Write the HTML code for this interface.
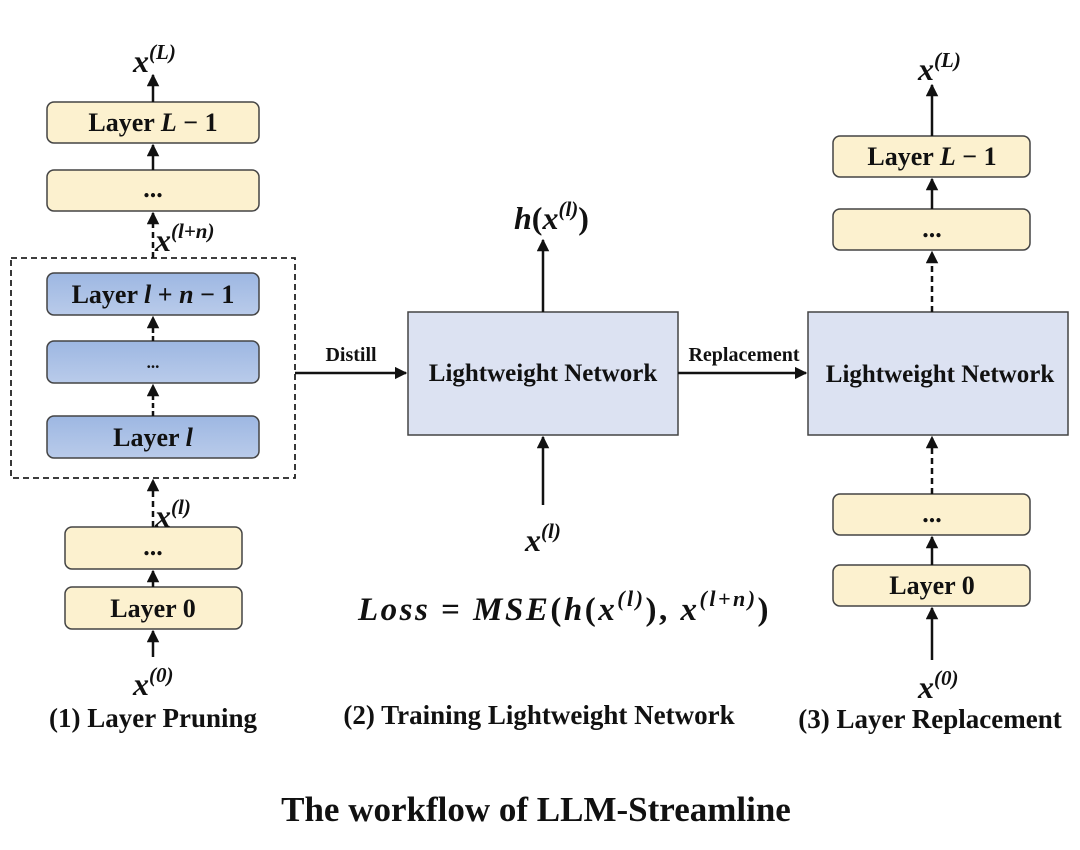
<!DOCTYPE html>
<html><head><meta charset="utf-8"><style>
body{margin:0;background:#fff}
text{font-family:"Liberation Serif",serif;font-weight:bold;fill:#111}
.m{font-style:italic}
</style></head><body>
<svg width="1080" height="845" viewBox="0 0 1080 845" xmlns="http://www.w3.org/2000/svg">
<defs>
<marker id="a" viewBox="0 0 10 10" refX="9" refY="5" markerWidth="5" markerHeight="5" orient="auto"><path d="M0,0L10,5L0,10z" fill="#111"/></marker>
<linearGradient id="bl" x1="0" y1="0" x2="0" y2="1"><stop offset="0" stop-color="#9db7e2"/><stop offset="1" stop-color="#b9cbea"/></linearGradient>
</defs>
<g stroke="#444" stroke-width="1.5">
<rect x="47" y="102" width="212" height="41" rx="7" fill="#fcf1cf"/>
<rect x="47" y="170" width="212" height="41" rx="7" fill="#fcf1cf"/>
<rect x="47" y="273" width="212" height="42" rx="7" fill="url(#bl)"/>
<rect x="47" y="341" width="212" height="42" rx="7" fill="url(#bl)"/>
<rect x="47" y="416" width="212" height="42" rx="7" fill="url(#bl)"/>
<rect x="65" y="527" width="177" height="42" rx="7" fill="#fcf1cf"/>
<rect x="65" y="587" width="177" height="42" rx="7" fill="#fcf1cf"/>
<rect x="408" y="312" width="270" height="123" fill="#dce2f2"/>
<rect x="808" y="312" width="260" height="123" fill="#dce2f2"/>
<rect x="833" y="136" width="197" height="41" rx="7" fill="#fcf1cf"/>
<rect x="833" y="209" width="197" height="41" rx="7" fill="#fcf1cf"/>
<rect x="833" y="494" width="197" height="41" rx="7" fill="#fcf1cf"/>
<rect x="833" y="565" width="197" height="41" rx="7" fill="#fcf1cf"/>
</g>
<rect x="11" y="258" width="284" height="220" fill="none" stroke="#222" stroke-width="1.8" stroke-dasharray="6,4"/>
<g stroke="#111" stroke-width="2.5" fill="none" marker-end="url(#a)">
<line x1="153" y1="102" x2="153" y2="75"/>
<line x1="153" y1="170" x2="153" y2="145"/>
<line x1="153" y1="258" x2="153" y2="213" stroke-dasharray="6,4"/>
<line x1="153" y1="341" x2="153" y2="317" stroke-dasharray="5,3"/>
<line x1="153" y1="416" x2="153" y2="385" stroke-dasharray="5,3"/>
<line x1="153" y1="527" x2="153" y2="480" stroke-dasharray="6,4"/>
<line x1="153" y1="587" x2="153" y2="571"/>
<line x1="153" y1="657" x2="153" y2="631"/>
<line x1="543" y1="312" x2="543" y2="240"/>
<line x1="543" y1="505" x2="543" y2="437"/>
<line x1="295" y1="373" x2="406" y2="373"/>
<line x1="678" y1="373" x2="806" y2="373"/>
<line x1="932" y1="136" x2="932" y2="85"/>
<line x1="932" y1="209" x2="932" y2="179"/>
<line x1="932" y1="312" x2="932" y2="252" stroke-dasharray="6,4"/>
<line x1="932" y1="494" x2="932" y2="437" stroke-dasharray="6,4"/>
<line x1="932" y1="565" x2="932" y2="537"/>
<line x1="932" y1="660" x2="932" y2="608"/>
</g>
<g font-size="26" text-anchor="middle">
<text x="153" y="131">Layer <tspan class="m">L</tspan> − 1</text>
<text x="153" y="197">...</text>
<text x="153" y="303">Layer <tspan class="m">l</tspan> + <tspan class="m">n</tspan> − 1</text>
<text x="153" y="368" font-size="17">...</text>
<text x="153" y="446">Layer <tspan class="m">l</tspan></text>
<text x="153" y="555">...</text>
<text x="153" y="617">Layer 0</text>
<text x="543" y="381" font-size="25">Lightweight Network</text>
<text x="940" y="382" font-size="25">Lightweight Network</text>
<text x="932" y="165">Layer <tspan class="m">L</tspan> − 1</text>
<text x="932" y="237">...</text>
<text x="932" y="522">...</text>
<text x="932" y="594">Layer 0</text>
</g>
<g font-size="20" text-anchor="middle">
<text x="351" y="361">Distill</text>
<text x="744" y="361">Replacement</text>
</g>
<g font-size="32" font-style="italic">
<text x="133" y="72">x<tspan font-size="21" dy="-13">(L)</tspan></text>
<text x="155" y="251">x<tspan font-size="21" dy="-13">(l+n)</tspan></text>
<text x="155" y="527">x<tspan font-size="21" dy="-13">(l)</tspan></text>
<text x="133" y="695">x<tspan font-size="21" dy="-13">(0)</tspan></text>
<text x="514" y="229">h<tspan font-style="normal">(</tspan>x<tspan font-size="21" dy="-13">(l)</tspan><tspan dy="13" font-style="normal">)</tspan></text>
<text x="525" y="551">x<tspan font-size="21" dy="-13">(l)</tspan></text>
<text x="918" y="80">x<tspan font-size="21" dy="-13">(L)</tspan></text>
<text x="918" y="698">x<tspan font-size="21" dy="-13">(0)</tspan></text>
<text x="358" y="620" font-size="33" letter-spacing="2.5">Loss <tspan font-style="normal"> = </tspan> MSE<tspan font-style="normal">(</tspan>h<tspan font-style="normal">(</tspan>x<tspan font-size="22" dy="-14">(l)</tspan><tspan dy="14" font-style="normal">), </tspan>x<tspan font-size="22" dy="-14">(l+n)</tspan><tspan dy="14" font-style="normal">)</tspan></text>
</g>
<g font-size="27" text-anchor="middle">
<text x="153" y="727">(1) Layer Pruning</text>
<text x="539" y="724">(2) Training Lightweight Network</text>
<text x="930" y="728">(3) Layer Replacement</text>
<text x="536" y="821" font-size="35">The workflow of LLM-Streamline</text>
</g>
</svg>
</body></html>
